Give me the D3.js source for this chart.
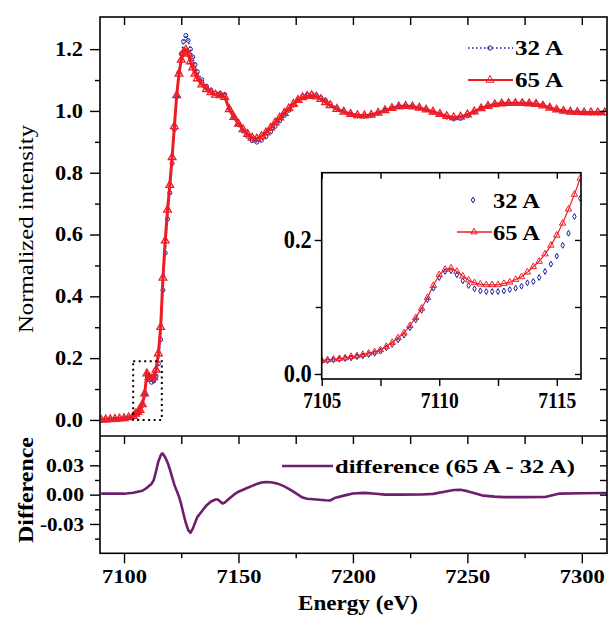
<!DOCTYPE html>
<html><head><meta charset="utf-8">
<script src="https://cdn.jsdelivr.net/npm/d3@7"></script>
<style>
body{margin:0;background:#fff}
text{font-family:"Liberation Serif","Times New Roman",serif;fill:#000}
</style>
</head><body>
<svg id="c" width="610" height="617"></svg>
<script>
// ---------------- DATA ----------------
const energy = [7090,7092,7094,7096,7098,7100,7102,7104,7105,7106,7107,7108,7109,7110,7111,7112,7113,7114,7115,7116,7117,7118,7119,7120,7121,7122,7123,7124,7125,7126,7127,7128,7129,7130,7131,7132,7134,7136,7138,7140,7142,7144,7146,7148,7150,7152,7154,7156,7158,7160,7162,7164,7166,7168,7170,7172,7174,7176,7178,7180,7182,7184,7186,7188,7190,7193,7196,7199,7202,7205,7208,7211,7214,7217,7220,7223,7226,7229,7232,7235,7238,7241,7244,7247,7250,7253,7256,7259,7262,7265,7268,7271,7274,7277,7280,7283,7286,7289,7292,7295,7298,7301,7304,7307,7310];
const int65 = [0.000,0.001,0.002,0.003,0.004,0.005,0.008,0.012,0.020,0.025,0.032,0.050,0.085,0.150,0.138,0.132,0.138,0.162,0.215,0.300,0.460,0.580,0.680,0.760,0.850,0.950,1.050,1.120,1.165,1.190,1.198,1.185,1.160,1.140,1.120,1.105,1.085,1.070,1.060,1.052,1.050,1.045,1.005,0.980,0.958,0.940,0.925,0.913,0.910,0.918,0.930,0.945,0.962,0.978,0.993,1.008,1.022,1.035,1.044,1.048,1.050,1.046,1.038,1.028,1.018,1.006,0.997,0.990,0.986,0.985,0.987,0.994,1.002,1.009,1.014,1.016,1.014,1.010,1.004,0.997,0.990,0.983,0.979,0.981,0.988,0.998,1.008,1.016,1.021,1.024,1.025,1.025,1.025,1.024,1.022,1.017,1.010,1.004,1.000,0.997,0.996,0.995,0.995,0.995,0.995];
const int32 = [-0.001,0.000,0.001,0.002,0.003,0.004,0.007,0.011,0.019,0.023,0.030,0.047,0.081,0.145,0.131,0.122,0.126,0.142,0.182,0.260,0.420,0.540,0.650,0.735,0.830,0.940,1.045,1.125,1.185,1.225,1.244,1.228,1.200,1.175,1.150,1.127,1.101,1.080,1.067,1.057,1.057,1.053,1.008,0.980,0.955,0.935,0.918,0.904,0.899,0.905,0.917,0.932,0.950,0.968,0.985,1.002,1.019,1.035,1.047,1.052,1.055,1.051,1.043,1.034,1.024,1.010,0.998,0.989,0.984,0.983,0.986,0.993,1.002,1.009,1.014,1.016,1.014,1.010,1.004,0.996,0.988,0.980,0.974,0.976,0.984,0.996,1.008,1.017,1.023,1.026,1.027,1.027,1.027,1.026,1.024,1.019,1.011,1.004,0.999,0.996,0.995,0.994,0.993,0.993,0.993];

const diffEnergy = [7090,7095,7100,7104,7106,7108,7110,7111,7112,7113,7114,7115,7116,7116.5,7117,7118,7119,7120,7121,7122,7123,7124,7125,7126,7127,7128,7129,7130,7131,7132,7134,7136,7138,7140,7141,7142,7143,7144,7146,7148,7150,7152,7154,7156,7158,7160,7162,7164,7166,7168,7170,7172,7174,7176,7178,7180,7184,7188,7190,7192,7196,7200,7205,7210,7214,7220,7230,7235,7240,7244,7247,7250,7254,7257,7262,7266,7275,7284,7288,7290,7300,7311];
const diffValues = [0.001,0.001,0.001,0.002,0.003,0.004,0.007,0.009,0.011,0.015,0.024,0.034,0.040,0.042,0.042,0.038,0.033,0.026,0.018,0.010,0.004,-0.002,-0.010,-0.020,-0.029,-0.036,-0.039,-0.035,-0.029,-0.023,-0.017,-0.011,-0.007,-0.005,-0.005,-0.007,-0.009,-0.008,-0.004,0.000,0.003,0.005,0.007,0.009,0.011,0.0125,0.0128,0.0127,0.0120,0.0105,0.0085,0.0060,0.0030,0.0000,-0.0030,-0.0042,-0.0050,-0.0058,-0.0060,-0.0035,-0.0010,0.0012,0.0018,0.0010,0.0000,0.0000,0.0002,0.0008,0.0030,0.0048,0.0050,0.0036,0.0010,-0.0010,-0.0020,-0.0025,-0.0025,-0.0024,0.0000,0.0010,0.0015,0.0017];

const insetEnergy = [7105,7105.25,7105.5,7105.75,7106,7106.25,7106.5,7106.75,7107,7107.25,7107.5,7107.75,7108,7108.25,7108.5,7108.75,7109,7109.25,7109.5,7109.75,7110,7110.25,7110.5,7110.75,7111,7111.25,7111.5,7111.75,7112,7112.25,7112.5,7112.75,7113,7113.25,7113.5,7113.75,7114,7114.25,7114.5,7114.75,7115,7115.25,7115.5,7115.75,7116];
const inset65 = [0.020,0.021,0.022,0.023,0.024,0.026,0.027,0.029,0.031,0.033,0.036,0.041,0.047,0.054,0.061,0.072,0.084,0.098,0.114,0.132,0.148,0.156,0.158,0.153,0.146,0.140,0.136,0.134,0.133,0.133,0.133,0.135,0.137,0.141,0.145,0.152,0.160,0.168,0.179,0.192,0.207,0.225,0.246,0.268,0.292];
const inset32 = [0.019,0.020,0.021,0.022,0.023,0.024,0.026,0.027,0.029,0.031,0.034,0.039,0.044,0.051,0.058,0.069,0.081,0.095,0.111,0.128,0.144,0.153,0.154,0.148,0.139,0.132,0.127,0.124,0.123,0.123,0.123,0.124,0.126,0.128,0.131,0.136,0.138,0.144,0.153,0.164,0.176,0.192,0.210,0.235,0.262];

const seriesNames = ["32 A", "65 A"];
const diffName = "difference (65 A - 32 A)";
const mainYTicks = [0.0,0.2,0.4,0.6,0.8,1.0,1.2];
const mainYMinor = [0.1,0.3,0.5,0.7,0.9,1.1];
const diffYTicks = [-0.03,0.00,0.03];
const diffYMinor = [-0.045,-0.015,0.015,0.045];
const xTicks = [7100,7150,7200,7250,7300];
const xMinor = [7125,7175,7225,7275];
const insetXTicks = [7105,7110,7115];
const insetXMinor = [7107.5,7112.5];
const insetYTicks = [0.0,0.2];
const insetYMinor = [0.1];
const zoomBox = {e0:7104, e1:7116.5, v0:0, v1:0.19};

// ---------------- LAYOUT ----------------
const svg = d3.select("#c");
const L = 100, R = 607, T = 17, MID = 436, B = 553.3;
const x = d3.scaleLinear([7089.5, 7311], [L, R]);
const yM = d3.scaleLinear([-0.052, 1.304], [MID, T]);
const yD = d3.scaleLinear([-0.06, 0.06], [B, MID]);
const IL = 321.7, IR = 581, IT = 172.7, IB = 379;
const xi = d3.scaleLinear([7105, 7116.03], [IL, IR]);
const yi = d3.scaleLinear([-0.0075, 0.3004], [IB, IT]);

const RED = "#ee1c25", BLUE = "#1a1aa0", PURPLE = "#6e1f6c";

svg.append("rect").attr("width",610).attr("height",617).attr("fill","#fff");

const defs = svg.append("defs");
defs.append("clipPath").attr("id","cm").append("rect").attr("x",L).attr("y",T).attr("width",R-L).attr("height",MID-T);
defs.append("clipPath").attr("id","cd").append("rect").attr("x",L).attr("y",MID).attr("width",R-L).attr("height",B-MID);
defs.append("clipPath").attr("id","ci").append("rect").attr("x",IL).attr("y",IT).attr("width",IR-IL).attr("height",IB-IT);

function styleAxis(g){
  g.select(".domain").remove();
  g.selectAll(".tick line").attr("stroke","#000").attr("stroke-width",1.4);
  g.selectAll(".tick text").attr("font-weight","bold").attr("fill","#000");
}
function addAxis(gen, tx, ty, opts){
  const g = svg.append("g").attr("transform",`translate(${tx},${ty})`).call(gen);
  styleAxis(g);
  if (opts){
    g.selectAll(".tick text").attr("font-size",opts.fs).attr("font-family",'"Liberation Serif",serif');
    if (opts.w) g.selectAll(".tick text").each(function(){
      const t = d3.select(this); const s = t.text();
      const w = typeof opts.w === "function" ? opts.w(s) : opts.w;
      t.attr("textLength", w).attr("lengthAdjust","spacingAndGlyphs");
    });
  }
  return g;
}
const fmt1 = d3.format(".1f");
const fmtD = d => (d<0?"-":"") + d3.format(".2f")(Math.abs(d));

// ---------------- MAIN PANEL ----------------
const gm = svg.append("g").attr("clip-path","url(#cm)");
const lineM = (vals) => d3.line().x((d,i)=>x(energy[i])).y(d=>yM(d))(vals);
gm.append("path").attr("d",lineM(int32)).attr("fill","none").attr("stroke",BLUE).attr("stroke-width",1.2).attr("stroke-dasharray","1.5,2");
gm.append("g").selectAll("circle").data(int32).join("circle")
  .attr("cx",(d,i)=>x(energy[i])).attr("cy",d=>yM(d)).attr("r",2)
  .attr("fill","none").attr("stroke",BLUE).attr("stroke-width",1);
gm.append("path").attr("d",lineM(int65)).attr("fill","none").attr("stroke",RED).attr("stroke-width",3);
const tri = d3.symbol(d3.symbolTriangle, 26);
gm.append("g").selectAll("path").data(int65).join("path")
  .attr("d",tri).attr("transform",(d,i)=>`translate(${x(energy[i])},${yM(d)})`)
  .attr("fill","none").attr("stroke",RED).attr("stroke-width",1.3);

// dotted zoom box
svg.append("rect").attr("x",x(zoomBox.e0)).attr("y",yM(zoomBox.v1))
  .attr("width",x(zoomBox.e1)-x(zoomBox.e0)).attr("height",yM(zoomBox.v0)-yM(zoomBox.v1))
  .attr("fill","none").attr("stroke","#000").attr("stroke-width",2).attr("stroke-dasharray","2,3.5");

// main axes
addAxis(d3.axisLeft(yM).tickValues(mainYTicks).tickSize(10).tickPadding(7).tickFormat(fmt1), L, 0, {fs:20, w:28});
addAxis(d3.axisLeft(yM).tickValues(mainYMinor).tickSize(5).tickFormat(""), L, 0);
addAxis(d3.axisRight(yM).tickValues(mainYTicks.concat(mainYMinor)).tickSize(-7).tickFormat(""), R, 0);
addAxis(d3.axisTop(x).tickValues(xTicks.concat(xMinor)).tickSize(-8).tickFormat(""), 0, T);

// main legend
const lg = svg.append("g");
lg.append("line").attr("x1",468).attr("x2",513).attr("y1",48).attr("y2",48).attr("stroke",BLUE).attr("stroke-width",1.4).attr("stroke-dasharray","1.5,2.5");
lg.append("circle").attr("cx",490).attr("cy",48).attr("r",2.2).attr("fill","none").attr("stroke",BLUE);
lg.append("text").attr("x",515).attr("y",55).attr("font-size",20).attr("font-weight","bold").attr("textLength",48).attr("lengthAdjust","spacingAndGlyphs").text(seriesNames[0]);
lg.append("line").attr("x1",468).attr("x2",513).attr("y1",80).attr("y2",80).attr("stroke",RED).attr("stroke-width",2);
lg.append("path").attr("d",tri).attr("transform","translate(490,80)").attr("fill","none").attr("stroke",RED);
lg.append("text").attr("x",515).attr("y",87).attr("font-size",20).attr("font-weight","bold").attr("textLength",48).attr("lengthAdjust","spacingAndGlyphs").text(seriesNames[1]);

// ---------------- INSET ----------------
svg.append("rect").attr("x",IL).attr("y",IT).attr("width",IR-IL).attr("height",IB-IT).attr("fill","#fff");
const gi = svg.append("g").attr("clip-path","url(#ci)");
gi.append("g").selectAll("path").data(inset32).join("path")
  .attr("d",d3.symbol(d3.symbolDiamond, 10)).attr("transform",(d,i)=>`translate(${xi(insetEnergy[i])},${yi(d)})`)
  .attr("fill","none").attr("stroke",BLUE).attr("stroke-width",1);
gi.append("path").attr("d",d3.line().x((d,i)=>xi(insetEnergy[i])).y(d=>yi(d))(inset65))
  .attr("fill","none").attr("stroke",RED).attr("stroke-width",1.2);
gi.append("g").selectAll("path").data(inset65).join("path")
  .attr("d",d3.symbol(d3.symbolTriangle, 18)).attr("transform",(d,i)=>`translate(${xi(insetEnergy[i])},${yi(d)})`)
  .attr("fill","none").attr("stroke",RED).attr("stroke-width",1);
svg.append("rect").attr("x",IL).attr("y",IT).attr("width",IR-IL).attr("height",IB-IT).attr("fill","none").attr("stroke","#000").attr("stroke-width",1.6);
addAxis(d3.axisLeft(yi).tickValues(insetYTicks).tickSize(7).tickPadding(3).tickFormat(fmt1), IL, 0, {fs:25, w:28});
addAxis(d3.axisLeft(yi).tickValues(insetYMinor).tickSize(6).tickFormat(""), IL, 0);
addAxis(d3.axisRight(yi).tickValues(insetYTicks.concat(insetYMinor)).tickSize(-6).tickFormat(""), IR, 0);
addAxis(d3.axisBottom(xi).tickValues(insetXTicks).tickSize(7).tickPadding(5).tickFormat(d3.format("d")), 0, IB, {fs:24, w:38});
addAxis(d3.axisBottom(xi).tickValues(insetXMinor).tickSize(7).tickFormat(""), 0, IB);
addAxis(d3.axisTop(xi).tickValues(insetXTicks.concat(insetXMinor)).tickSize(-6).tickFormat(""), 0, IT);
// inset legend
const il = svg.append("g");
il.append("path").attr("d",d3.symbol(d3.symbolDiamond, 10)).attr("transform","translate(473,200)").attr("fill","none").attr("stroke",BLUE);
il.append("text").attr("x",493).attr("y",207.5).attr("font-size",22).attr("font-weight","bold").attr("textLength",47).attr("lengthAdjust","spacingAndGlyphs").text(seriesNames[0]);
il.append("line").attr("x1",457).attr("x2",492).attr("y1",232).attr("y2",232).attr("stroke",RED).attr("stroke-width",1.6);
il.append("path").attr("d",d3.symbol(d3.symbolTriangle, 18)).attr("transform","translate(474,232)").attr("fill","none").attr("stroke",RED);
il.append("text").attr("x",493).attr("y",239.5).attr("font-size",22).attr("font-weight","bold").attr("textLength",47).attr("lengthAdjust","spacingAndGlyphs").text(seriesNames[1]);

// ---------------- DIFFERENCE PANEL ----------------
const gd = svg.append("g").attr("clip-path","url(#cd)");
gd.append("path").attr("d",d3.line().x((d,i)=>x(diffEnergy[i])).y(d=>yD(d))(diffValues))
  .attr("fill","none").attr("stroke",PURPLE).attr("stroke-width",2.6).attr("stroke-linejoin","round");
addAxis(d3.axisLeft(yD).tickValues(diffYTicks).tickSize(10).tickPadding(6).tickFormat(fmtD), L, 0, {fs:19, w:s=>s.startsWith("-")?44:38});
addAxis(d3.axisLeft(yD).tickValues(diffYMinor).tickSize(5).tickFormat(""), L, 0);
addAxis(d3.axisRight(yD).tickValues(diffYTicks.concat(diffYMinor)).tickSize(-7).tickFormat(""), R, 0);
addAxis(d3.axisTop(x).tickValues(xTicks.concat(xMinor)).tickSize(-8).tickFormat(""), 0, MID);
addAxis(d3.axisBottom(x).tickValues(xTicks).tickSize(10).tickPadding(6).tickFormat(d3.format("d")), 0, B, {fs:19, w:45});
addAxis(d3.axisBottom(x).tickValues(xMinor).tickSize(5).tickFormat(""), 0, B);
// diff legend
svg.append("line").attr("x1",282).attr("x2",333).attr("y1",466).attr("y2",466).attr("stroke",PURPLE).attr("stroke-width",2.6);
svg.append("text").attr("x",335).attr("y",473).attr("font-size",19).attr("font-weight","bold").attr("textLength",240).attr("lengthAdjust","spacingAndGlyphs").text(diffName);

// frames
const fr = svg.append("g").attr("fill","none").attr("stroke","#000").attr("stroke-width",1.6);
fr.append("rect").attr("x",L).attr("y",T).attr("width",R-L).attr("height",B-T);
fr.append("line").attr("x1",L).attr("x2",R).attr("y1",MID).attr("y2",MID);

// axis titles
svg.append("text").attr("transform","translate(33,229) rotate(-90)").attr("text-anchor","middle")
  .attr("font-size",20).attr("textLength",208).attr("lengthAdjust","spacingAndGlyphs").text("Normalized intensity");
svg.append("text").attr("transform","translate(33,490) rotate(-90)").attr("text-anchor","middle")
  .attr("font-size",20).attr("font-weight","bold").attr("textLength",106).attr("lengthAdjust","spacingAndGlyphs").text("Difference");
svg.append("text").attr("x",358).attr("y",610).attr("text-anchor","middle")
  .attr("font-size",21).attr("font-weight","bold").attr("textLength",120).attr("lengthAdjust","spacingAndGlyphs").text("Energy (eV)");
</script>
</body></html>
